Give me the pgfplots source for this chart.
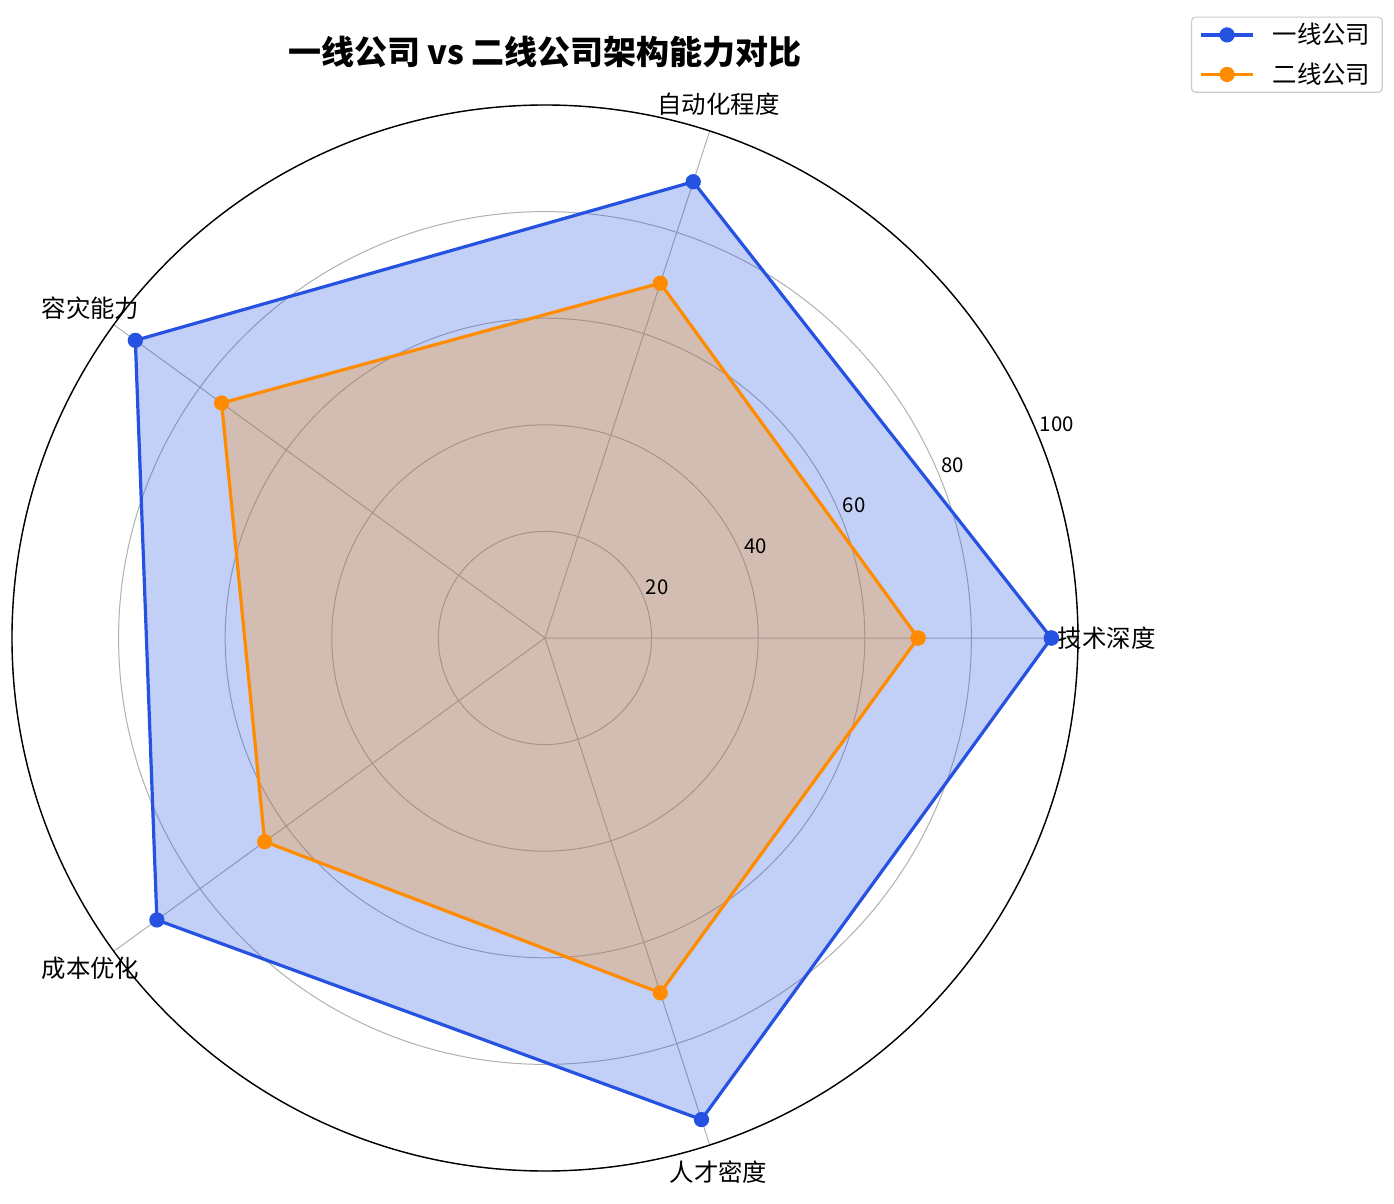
\documentclass[border=0pt]{standalone}
\usepackage{fontspec}
\setmainfont{Noto Sans CJK SC}
\usepackage{pgfplots}
\pgfplotsset{compat=1.18}
\usepgfplotslibrary{polar}

\definecolor{lineA}{RGB}{37,82,224}
\definecolor{lineB}{RGB}{255,140,0}
\definecolor{gridc}{RGB}{176,176,176}

% 1px of the reference = 0.5pt here; polar centre at (0,0)
\begin{document}
\begin{tikzpicture}
\path[use as bounding box] (-272.5pt,-283pt) rectangle (424.5pt,319pt);

\begin{polaraxis}[
    at={(0,0)}, anchor=origin,
    width=533pt, height=533pt, scale only axis,
    xmin=0, xmax=360, ymin=0, ymax=100,
    xtick={0,72,144,216,288},
    ytick={20,40,60,80,100},
    xticklabels={}, yticklabels={},
    major tick length=0pt,
    grid=major,
    major grid style={draw=gridc, line width=0.5pt},
    x axis line style={draw=black, line width=0.7pt},
    y axis line style={draw=none},
    clip=false,
    legend style={
        at={(axis description cs:1.286,1.083)}, anchor=north east,
        draw=gray!40, line width=0.6pt, rounded corners=2pt,
        font=\fontsize{12.2}{14}\selectfont,
        row sep=4pt, inner xsep=4pt, inner ysep=1pt,
        cells={anchor=west},
    },
    legend image code/.code={
        \draw[mark repeat=2, mark phase=2]
            plot coordinates {(0pt,0pt) (13pt,0pt) (26pt,0pt)};
        \path (33pt,0pt);
    },
]

% 一线公司
\addplot[forget plot, draw=none, fill=lineA, fill opacity=0.28]
    coordinates {(0,95) (72,90) (144,95) (216,90) (288,95) (360,95)};
\addplot[lineA, line width=1.6pt, mark=*, mark size=3pt, mark options={solid, fill=lineA}]
    coordinates {(0,95) (72,90) (144,95) (216,90) (288,95) (360,95)};
\addlegendentry{一线公司}

% 二线公司
\addplot[forget plot, draw=none, fill=lineB, fill opacity=0.28]
    coordinates {(0,70) (72,70) (144,75) (216,65) (288,70) (360,70)};
\addplot[lineB, line width=1.6pt, mark=*, mark size=3pt, mark options={solid, fill=lineB}]
    coordinates {(0,70) (72,70) (144,75) (216,65) (288,70) (360,70)};
\addlegendentry{二线公司}

% 类别标签
\foreach \ang/\lab in {0/技术深度, 72/自动化程度, 144/容灾能力, 216/成本优化, 288/人才密度} {
    \edef\tmp{\noexpand\node[anchor=center, font=\noexpand\fontsize{12.2}{14}\noexpand\selectfont]
        at (axis cs:\ang,105.4) {\lab};}
    \tmp
}
% 半径刻度
\foreach \r in {20,40,60,80,100} {
    \edef\tmp{\noexpand\node[anchor=south west, inner sep=1pt, font=\noexpand\fontsize{10.2}{12}\noexpand\selectfont]
        at (axis cs:22.5,\r) {\r};}
    \tmp
}
\end{polaraxis}

\node[font=\fontsize{16.5}{20}\selectfont\bfseries] at (0pt,293pt)
    {一线公司 vs 二线公司架构能力对比};
\end{tikzpicture}
\end{document}
